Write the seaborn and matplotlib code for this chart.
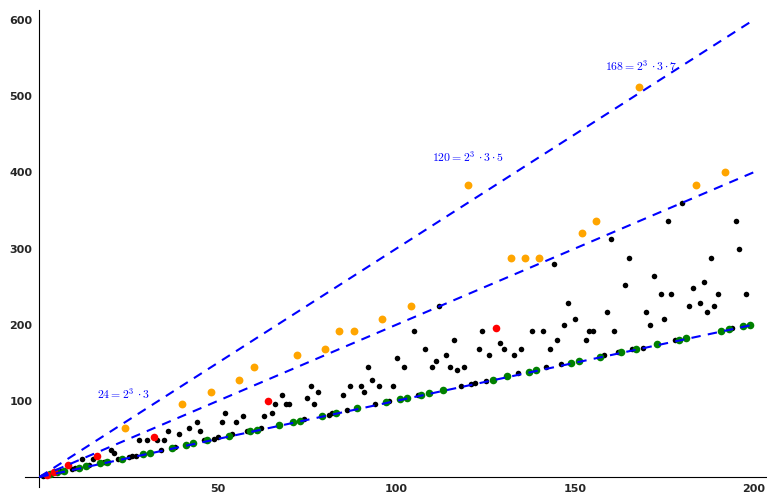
import matplotlib

matplotlib.use("Agg")
import matplotlib.pyplot as plt
import pandas as pd
import seaborn as sns
from matplotlib.ticker import MultipleLocator, FixedLocator

# %% Data
# odd primes (green), sitting on y = n + 1
prime_n = [3, 5, 7, 11, 13, 17, 19, 23, 29, 31, 37, 41, 43, 47, 53, 59, 61, 67, 71, 73,
           79, 83, 89, 97, 101, 103, 107, 109, 113, 127, 131, 137, 139, 149, 151, 157,
           163, 167, 173, 179, 181, 191, 193, 197, 199]
prime_f = [4, 6, 8, 12, 14, 18, 20, 24, 30, 32, 38, 42, 44, 48, 54, 60, 62, 68, 72, 74,
           80, 84, 90, 98, 102, 104, 108, 110, 114, 128, 132, 138, 140, 150, 152, 158,
           164, 168, 174, 180, 182, 192, 194, 198, 200]

# powers of two (red)
pow2_n = [2, 4, 8, 16, 32, 64, 128]
pow2_f = [2, 6, 16, 28, 52, 100, 196]

# points above the 2n line (orange)
big_n = [24, 40, 48, 56, 60, 72, 80, 84, 88, 96, 104, 120, 132, 136, 140, 152, 156,
         168, 184, 192]
big_f = [64, 96, 112, 128, 144, 160, 168, 192, 192, 208, 224, 384, 288, 288, 288, 320,
         336, 512, 384, 400]

# everything else (black)
other_n = [1, 6, 9, 10, 12, 14, 15, 18, 20, 21, 22, 25, 26, 27, 28, 30, 33, 34, 35, 36,
           38, 39, 42, 44, 45, 46, 49, 50, 51, 52, 54, 55, 57, 58, 62, 63, 65, 66, 68, 69,
           70, 74, 75, 76, 77, 78, 81, 82, 85, 86, 87, 90, 91, 92, 93, 94, 95, 98, 99, 100,
           102, 105, 106, 108, 110, 111, 112, 114, 115, 116, 117, 118, 119, 121, 122, 123,
           124, 125, 126, 129, 130, 133, 134, 135, 138, 141, 142, 143, 144, 145, 146, 147,
           148, 150, 153, 154, 155, 158, 159, 160, 161, 162, 164, 165, 166, 169, 170, 171,
           172, 174, 175, 176, 177, 178, 180, 182, 183, 185, 186, 187, 188, 189, 190, 194,
           195, 196, 198]
other_f = [1, 8, 10, 12, 24, 16, 24, 20, 36, 32, 24, 26, 28, 28, 48, 48, 48, 36, 48, 60,
           40, 56, 64, 72, 60, 48, 50, 52, 72, 84, 56, 72, 80, 60, 64, 80, 84, 96, 108, 96,
           96, 76, 104, 120, 96, 112, 82, 84, 108, 88, 120, 120, 112, 144, 128, 96, 120, 100,
           120, 156, 144, 192, 108, 168, 144, 152, 224, 160, 144, 180, 140, 120, 144, 122,
           124, 168, 192, 126, 160, 176, 168, 160, 136, 168, 192, 192, 144, 168, 280, 180,
           148, 200, 228, 208, 180, 192, 192, 160, 216, 312, 192, 164, 252, 288, 168, 170,
           216, 200, 264, 240, 208, 336, 240, 180, 360, 224, 248, 228, 256, 216, 288, 224,
           240, 196, 336, 300, 240]

# dashed guide lines y = k*n
slopes = [1, 2, 3]
line_x = [0, 200]

# labelled points
label_text = [r"$24=2^3\,\cdot 3$", r"$120=2^3\,\cdot 3\cdot 5$", r"$168=2^3\,\cdot 3\cdot 7$"]
label_pos = [(23.5, 109), (120, 420), (168.5, 539)]

# %% Build plot
sns.set_style("white")
plt.rcParams["mathtext.fontset"] = "cm"

groups = [
    ("other", other_n, other_f, "black", 16),
    ("prime", prime_n, prime_f, "#008000", 30),
    ("pow2", pow2_n, pow2_f, "#ff0000", 30),
    ("big", big_n, big_f, "#ffa500", 32),
]

fig = plt.figure(figsize=(7.67, 4.96), dpi=100)
ax = fig.add_axes([25.2 / 767, 9.1 / 496, 742.6 / 767, 476.8 / 496])

for name, xs, ys, color, size in groups:
    df = pd.DataFrame({"n": xs, "f": ys})
    sns.scatterplot(data=df, x="n", y="f", color=color, s=size, linewidth=0, ax=ax, zorder=3)

for k in slopes:
    ax.plot(line_x, [k * x for x in line_x], color="#0000ff", linestyle=(0, (4.5, 3.5)),
            linewidth=1.5, zorder=4)

for text, (tx, ty) in zip(label_text, label_pos):
    ax.text(tx, ty, text, color="#0000ff", fontsize=8.5, ha="center", va="center")

ax.set_xlim(-4, 204)
ax.set_ylim(-13, 613)
ax.set_xlabel("")
ax.set_ylabel("")

for side in ["top", "right"]:
    ax.spines[side].set_visible(False)
for side in ["left", "bottom"]:
    ax.spines[side].set_position(("data", 0))
    ax.spines[side].set_color("black")
    ax.spines[side].set_linewidth(0.8)

ax.xaxis.set_major_locator(FixedLocator([50, 100, 150, 200]))
ax.xaxis.set_minor_locator(MultipleLocator(10))
ax.yaxis.set_major_locator(FixedLocator([100, 200, 300, 400, 500, 600]))
ax.yaxis.set_minor_locator(MultipleLocator(25))
ax.tick_params(which="major", direction="inout", length=6, width=0.8, color="black",
               labelsize=8, pad=2)
ax.tick_params(which="minor", direction="in", length=3, width=0.8, color="black")
for lbl in ax.get_xticklabels() + ax.get_yticklabels():
    lbl.set_fontweight("bold")

fig.savefig("out.png", dpi=100)
